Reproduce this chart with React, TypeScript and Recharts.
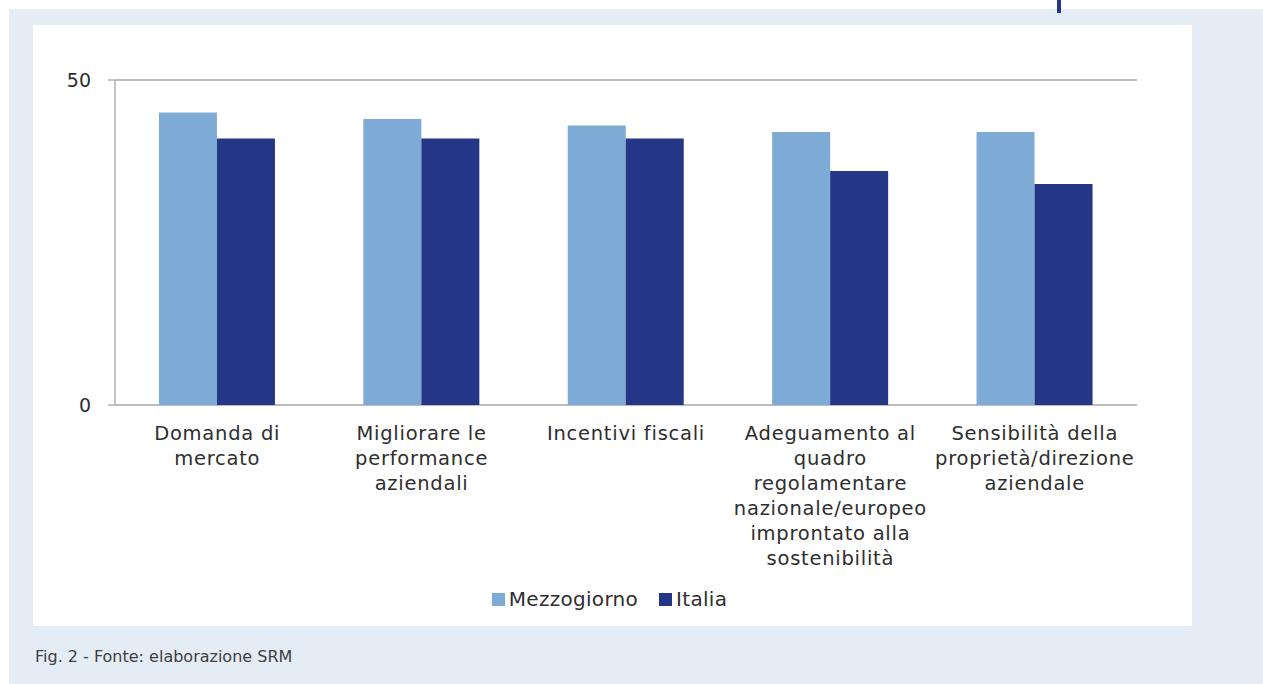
import React from 'react';
import { BarChart, Bar, XAxis, YAxis, CartesianGrid, Legend } from 'recharts';

const categories = [
  'Domanda di mercato',
  'Migliorare le performance aziendali',
  'Incentivi fiscali',
  'Adeguamento al quadro regolamentare nazionale/europeo improntato alla sostenibilità',
  'Sensibilità della proprietà/direzione aziendale',
];

const tickLines = [
  ['Domanda di', 'mercato'],
  ['Migliorare le', 'performance', 'aziendali'],
  ['Incentivi fiscali'],
  ['Adeguamento al', 'quadro', 'regolamentare', 'nazionale/europeo', 'improntato alla', 'sostenibilità'],
  ['Sensibilità della', 'proprietà/direzione', 'aziendale'],
];

const seriesNames = ['Mezzogiorno', 'Italia'];
const mezzogiorno = [45, 44, 43, 42, 42];
const italia = [41, 41, 41, 36, 34];

const yTicks = [0, 50];
const boundaryTicks = [0, 1, 2, 3, 4, 5];

const data = categories.map((name, i) => ({
  name,
  idx: i,
  Mezzogiorno: mezzogiorno[i],
  Italia: italia[i],
}));

const FONT = '"DejaVu Sans", sans-serif';
const TEXT = '#2e2e2e';
const AXIS = '#a6a6a6';

const CategoryTick = (props: any) => {
  const { x, y, payload } = props;
  const lines = tickLines[payload.index] || [payload.value];
  return (
    <text x={x} y={y} textAnchor="middle" fill={TEXT} fontSize={19.5} letterSpacing={0.75} fontFamily={FONT}>
      {lines.map((l: string, i: number) => (
        <tspan key={i} x={x} dy={i === 0 ? 19 : 25}>
          {l}
        </tspan>
      ))}
    </text>
  );
};

const LegendContent = (props: any) => {
  const items = [...(props.payload || [])].sort(
    (a: any, b: any) => seriesNames.indexOf(a.value) - seriesNames.indexOf(b.value)
  );
  return (
    <div style={{ display: 'flex', justifyContent: 'center', gap: 21, paddingLeft: 49, fontFamily: FONT }}>
      {items.map((it: any) => (
        <div key={it.value} style={{ display: 'flex', alignItems: 'center', gap: 4 }}>
          <span style={{ width: 13, height: 13, background: it.color, display: 'inline-block' }} />
          <span style={{ fontSize: 20, color: TEXT, letterSpacing: 0.3 }}>{it.value}</span>
        </div>
      ))}
    </div>
  );
};

export default function App() {
  return (
    <div
      style={{
        position: 'absolute',
        left: 0,
        top: 0,
        width: 1263,
        height: 684,
        background: '#ffffff',
        fontFamily: FONT,
      }}
    >
      <div style={{ position: 'absolute', left: 9, top: 9, width: 1254, height: 675, background: '#e4ecf6' }} />
      <div style={{ position: 'absolute', left: 1057, top: 0, width: 4, height: 13, background: '#253686' }} />
      <div style={{ position: 'absolute', left: 33, top: 25, width: 1159, height: 601, background: '#ffffff' }}>
        <BarChart
          width={1159}
          height={601}
          data={data}
          margin={{ top: 55, right: 55, left: 0, bottom: 15 }}
          barCategoryGap="21.5%"
          barGap={0}
        >
          <CartesianGrid horizontal vertical={false} stroke={AXIS} strokeWidth={1.3} />
          <XAxis
            xAxisId="edges"
            type="number"
            dataKey="idx"
            domain={[0, 5]}
            ticks={boundaryTicks}
            height={0}
            axisLine={{ stroke: AXIS, strokeWidth: 1.3 }}
            tickLine={{ stroke: AXIS, strokeWidth: 1.3 }}
            tickSize={7}
            tick={() => <g />}
          />
          <XAxis
            dataKey="name"
            interval={0}
            height={182}
            axisLine={false}
            tickLine={false}
            tickSize={0}
            tick={<CategoryTick />}
            tickMargin={16}
          />
          <YAxis
            width={82}
            domain={[0, 50]}
            ticks={yTicks}
            interval={0}
            axisLine={{ stroke: AXIS, strokeWidth: 1.3 }}
            tickLine={{ stroke: AXIS, strokeWidth: 1.3 }}
            tickSize={7}
            tickMargin={17}
            tick={{ fill: TEXT, fontSize: 19, fontFamily: FONT }}
          />
          <Legend verticalAlign="bottom" align="center" content={<LegendContent />} />
          <Bar dataKey="Mezzogiorno" fill="#7eabd6" isAnimationActive={false} />
          <Bar dataKey="Italia" fill="#253686" isAnimationActive={false} />
        </BarChart>
      </div>
      <div
        style={{
          position: 'absolute',
          left: 35,
          top: 647,
          fontSize: 16,
          color: '#404040',
          fontFamily: FONT,
        }}
      >
        Fig. 2 - Fonte: elaborazione SRM
      </div>
    </div>
  );
}
